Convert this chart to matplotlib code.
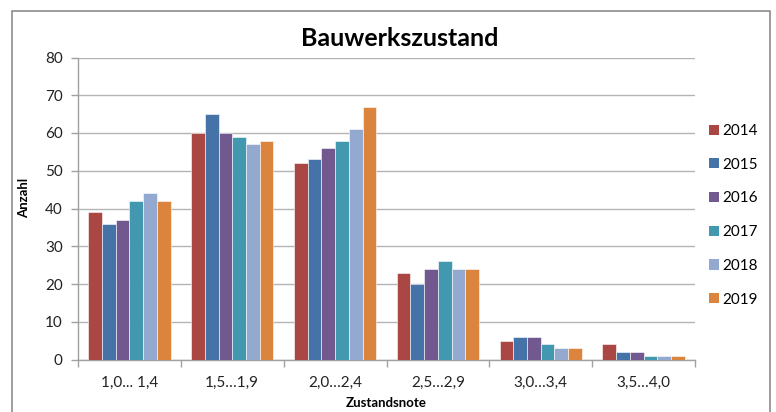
import matplotlib
matplotlib.use("Agg")
import matplotlib.pyplot as plt
from matplotlib.patches import Patch
import numpy as np

plt.rcParams['font.family'] = ['Lato', 'DejaVu Sans']

categories = ["1,0... 1,4", "1,5…1,9", "2,0…2,4", "2,5…2,9", "3,0…3,4", "3,5…4,0"]
years = ["2014", "2015", "2016", "2017", "2018", "2019"]
values = {
    "2014": [39, 60, 52, 23, 5, 4],
    "2015": [36, 65, 53, 20, 6, 2],
    "2016": [37, 60, 56, 24, 6, 2],
    "2017": [42, 59, 58, 26, 4, 1],
    "2018": [44, 57, 61, 24, 3, 1],
    "2019": [42, 58, 67, 24, 3, 1],
}
colors = ["#AA4643", "#4572A7", "#71588F", "#4198AF", "#93A9CF", "#DB843D"]

W, H = 776, 412
fig = plt.figure(figsize=(W / 100, H / 100), dpi=100)
ax = fig.add_axes([78 / W, 1 - 359.5 / H, (695 - 78) / W, (359.5 - 57.5) / H])

x = np.arange(len(categories))
n = len(years)
group_w = 0.8
bw = group_w / n
for i, (yr, c) in enumerate(zip(years, colors)):
    ax.bar(x - group_w / 2 + bw * (i + 0.5), values[yr], width=bw, color=c,
           edgecolor='white', linewidth=0.4, zorder=3)

ax.set_xlim(-0.5, len(categories) - 0.5)
ax.set_ylim(0, 80)
ax.set_yticks(range(0, 81, 10))
ax.set_xticks(x)
ax.set_xticklabels(categories)
ax.set_xticks(np.arange(-0.5, len(categories), 1), minor=True)
ax.tick_params(axis='x', which='major', length=0, pad=12, labelsize=11, colors='#222222')
ax.tick_params(axis='x', which='minor', length=5, color='#A0A0A0', width=1)
ax.tick_params(axis='y', length=5, color='#A0A0A0', width=1, pad=6, labelsize=11, colors='#222222')
ax.tick_params(axis='y', color='#A0A0A0')
ax.yaxis.grid(True, color='#B4B4B4', linewidth=1, zorder=0)
for s in ['top', 'right']:
    ax.spines[s].set_visible(False)
for s in ['left', 'bottom']:
    ax.spines[s].set_color('#A0A0A0')
    ax.spines[s].set_linewidth(1)

fig.text(400 / W, 1 - 38 / H, "Bauwerkszustand", ha='center', va='center',
         fontsize=18, fontweight='bold', color='black')
fig.text(24 / W, 1 - 198 / H, "Anzahl", rotation=90, ha='center', va='center',
         fontsize=9.5, fontweight='bold', color='black')
fig.text(386 / W, 1 - 403 / H, "Zustandsnote", ha='center', va='center',
         fontsize=9.5, fontweight='bold', color='black')

handles = [Patch(facecolor=c, edgecolor='none') for c in colors]
leg = fig.legend(handles, years, loc='upper left', bbox_to_anchor=(709 / W, 1 - 124 / H),
                 frameon=False, fontsize=11, labelspacing=1.29, handlelength=0.65,
                 handleheight=0.65, handletextpad=0.25, borderaxespad=0, borderpad=0)

# outer chart border
fig.add_artist(plt.Line2D([12 / W, 12 / W, 770 / W, 770 / W],
                          [0, 1 - 11 / H, 1 - 11 / H, 0],
                          transform=fig.transFigure, color='#8C8C8C', linewidth=1.2))

fig.savefig("out.png", dpi=100)
